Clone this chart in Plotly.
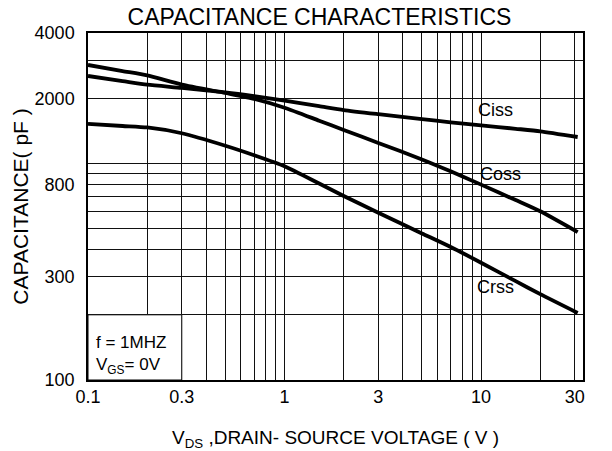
import math
import plotly.graph_objects as go

# ---- data (log-log capacitance curves) ----
vds = [0.1, 0.15, 0.2, 0.3, 0.5, 0.7, 1.0, 1.5, 2.0, 3.0, 5.0, 7.0, 10.0, 15.0, 20.0, 31.0]
ciss = [2533, 2399, 2309, 2232, 2130, 2046, 1948, 1839, 1764, 1688, 1602, 1548, 1498, 1445, 1407, 1324]
coss = [2847, 2668, 2549, 2312, 2114, 1986, 1808, 1575, 1427, 1243, 1043, 919, 798, 677, 601, 482]
crss = [1521, 1488, 1465, 1378, 1207, 1091, 970, 807, 707, 592, 475, 411, 348, 286, 249, 204]

x_grid = [0.1, 0.2, 0.3, 0.4, 0.5, 0.6, 0.7, 0.8, 0.9, 1, 2, 3, 4, 5, 6, 7, 8, 9, 10, 20, 30]
x_labels = ["0.1", "", "0.3", "", "", "", "", "", "", "1", "", "3", "", "", "", "", "", "", "10", "", "30"]
y_grid = [100, 200, 300, 400, 500, 600, 700, 800, 900, 1000, 2000, 3000, 4000]
y_labels = ["100", "", "300", "", "", "", "", "800", "", "", "2000", "", "4000"]

curve_names = ["Ciss", "Coss", "Crss"]
label_x = [11.9, 12.6, 11.9]
label_y = [1764, 894, 269]

FONT = "Liberation Sans, Arial, sans-serif"

fig = go.Figure()
for ys, name in zip([ciss, coss, crss], curve_names):
    fig.add_trace(go.Scatter(x=vds, y=ys, mode="lines", name=name,
                             line=dict(color="black", width=3.8, shape="spline", smoothing=0.6),
                             showlegend=False, hoverinfo="skip"))

for n, lx, ly in zip(curve_names, label_x, label_y):
    fig.add_annotation(x=math.log10(lx), y=math.log10(ly), xref="x", yref="y", text=n, showarrow=False,
                       font=dict(family=FONT, size=18, color="black"))

# condition box
fig.add_shape(type="rect", xref="x", yref="y", x0=x_grid[0], x1=x_grid[2], y0=y_grid[0], y1=y_grid[1],
              fillcolor="white", line=dict(color="black", width=1), layer="above")
fig.add_annotation(xref="x domain", yref="y domain", x=0.012, y=0.071, xanchor="left", yanchor="middle",
                   text="f = 1MHZ<br>V<sub>GS</sub>= 0V", align="left", showarrow=False,
                   font=dict(family=FONT, size=17, color="black"))

fig.update_layout(
    width=612, height=451,
    margin=dict(l=88, r=29, t=33, b=71),
    paper_bgcolor="white", plot_bgcolor="white",
    title=dict(text="CAPACITANCE CHARACTERISTICS", x=0.522, xanchor="center", y=0.962, yanchor="middle",
               font=dict(family=FONT, size=23, color="black")),
    font=dict(family=FONT, color="black"),
)
fig.update_xaxes(type="log", range=[-1, 1.5185], tickmode="array", tickvals=x_grid, ticktext=x_labels,
                 showgrid=True, gridcolor="#111", gridwidth=1, ticks="",
                 showline=True, linecolor="black", linewidth=1.5, mirror=True,
                 ticklabelstandoff=0, automargin=False,
                 tickfont=dict(family=FONT, size=18, color="black"),
                 title=dict(text="V<sub>DS</sub> ,DRAIN- SOURCE VOLTAGE ( V )", standoff=26,
                            font=dict(family=FONT, size=19, color="black")),
                 zeroline=False)
fig.update_yaxes(type="log", range=[2, 3.60206], tickmode="array", tickvals=y_grid, ticktext=y_labels,
                 showgrid=True, gridcolor="#111", gridwidth=1, ticks="",
                 showline=True, linecolor="black", linewidth=1.5, mirror=True,
                 ticklabelstandoff=8, automargin=False,
                 tickfont=dict(family=FONT, size=18, color="black"),
                 title=dict(text="CAPACITANCE( pF )", standoff=0,
                            font=dict(family=FONT, size=21, color="black")),
                 zeroline=False)

fig.write_html("out.html", config={"displayModeBar": False},
               post_script="document.body.style.margin='0';")
